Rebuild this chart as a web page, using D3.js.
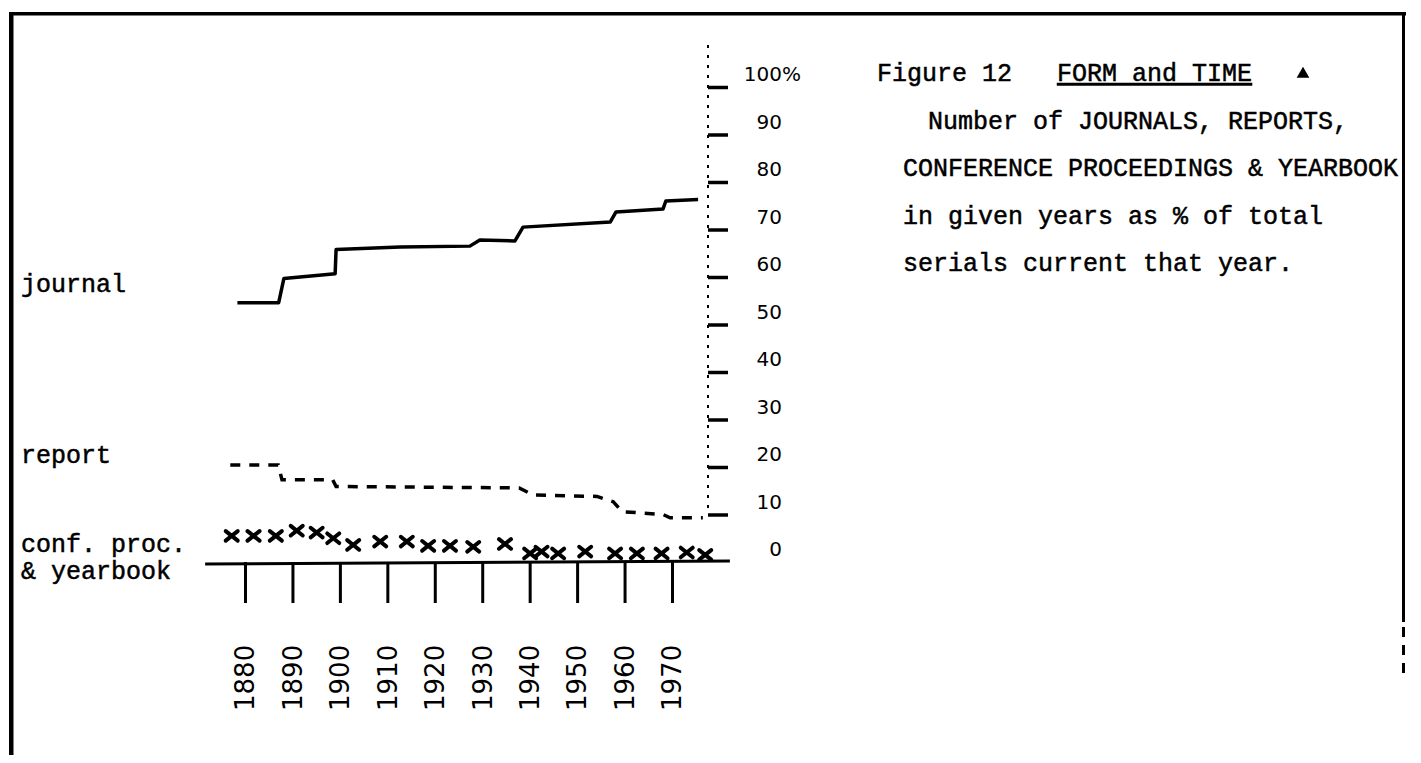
<!DOCTYPE html>
<html>
<head>
<meta charset="utf-8">
<script src="https://cdn.jsdelivr.net/npm/d3@7"></script>
<style>
  html, body { margin: 0; padding: 0; background: #fff; }
  svg { display: block; }
  .mono { font-family: "Liberation Mono", "DejaVu Sans Mono", monospace; font-size: 25px; font-weight: normal; fill: #000; stroke: #000; stroke-width: 0.5px; }
  .sans { font-family: "DejaVu Sans", sans-serif; fill: #000; }
</style>
</head>
<body>
<svg id="chart" width="1421" height="763"></svg>
<script>
// ---- data ----
const xTickYears = [1880, 1890, 1900, 1910, 1920, 1930, 1940, 1950, 1960, 1970];
const yTickValues = [0, 10, 20, 30, 40, 50, 60, 70, 80, 90, 100];

// journal: stepped solid line
const journalYear = [1878.4, 1887.1, 1888.2, 1899.0, 1899.2, 1912.7, 1927.4, 1929.5, 1936.9, 1938.6, 1957.0, 1958.2, 1968.1, 1968.7, 1975.5];
const journalPct  = [54.6,   54.6,   59.7,   60.7,   65.8,   66.3,   66.5,   67.8,   67.6,   70.5,   71.6,   73.7,   74.3,   76.0,   76.3];

// report: dashed line
const reportYear = [1876.9, 1887.0, 1887.8, 1898.5, 1899.2, 1937.8, 1940.7, 1954.2, 1957.6, 1959.5, 1968.1, 1969.6, 1976.5];
const reportPct  = [20.4,   20.4,   17.3,   17.3,   15.9,   15.6,   14.1,   13.8,   12.7,   10.6,   10.0,   9.3,    9.3];

// conference proceedings & yearbook: x marks
const confYear = [1877.2, 1881.8, 1886.5, 1890.9, 1895.1, 1898.6, 1902.8, 1908.5, 1914.1, 1918.6, 1923.2, 1928.1, 1934.8, 1940.1, 1942.5, 1946.0, 1951.7, 1958.0, 1962.6, 1967.8, 1973.1, 1977.0];
const confPct  = [5.5,    5.5,    5.5,    6.6,    6.2,    5.0,    3.6,    4.3,    4.3,    3.4,    3.4,    3.2,    3.8,    1.8,    2.2,    1.8,    2.2,    1.8,    1.8,    1.8,    2.0,    1.5];

const seriesLabels = ["journal", "report", "conf. proc.", "& yearbook"];
const captionLines = [
  "Number of JOURNALS, REPORTS,",
  "CONFERENCE PROCEEDINGS & YEARBOOK",
  "in given years as % of total",
  "serials current that year."
];

// ---- layout ----
const svg = d3.select("#chart");
const x = d3.scaleLinear().domain([1880, 1970]).range([245, 672]);
const y = d3.scaleLinear().domain([0, 100]).range([562, 87]);
const axisX = 708;

// frame
svg.append("rect").attr("x", 9).attr("y", 12).attr("width", 1397).attr("height", 3.5).attr("fill", "#000");
svg.append("rect").attr("x", 9).attr("y", 12).attr("width", 4.5).attr("height", 743).attr("fill", "#000");
svg.append("rect").attr("x", 1402).attr("y", 12).attr("width", 3).attr("height", 610).attr("fill", "#000");
svg.append("line").attr("x1", 1403.5).attr("y1", 627).attr("x2", 1403.5).attr("y2", 678)
  .attr("stroke", "#000").attr("stroke-width", 3).attr("stroke-dasharray", "10 8");

// y axis (right side)
const yAxis = d3.axisRight(y).tickValues(yTickValues).tickSize(20).tickFormat("");
const gy = svg.append("g").attr("transform", `translate(${axisX},0)`).call(yAxis);
gy.select(".domain").remove();
gy.selectAll(".tick line").attr("stroke", "#000").attr("stroke-width", 3.5);
gy.select(".tick:first-of-type").remove();
svg.append("line").attr("x1", axisX).attr("x2", axisX).attr("y1", 45).attr("y2", y(10))
  .attr("stroke", "#000").attr("stroke-width", 2).attr("stroke-dasharray", "3 7");

// y tick labels
svg.append("g").selectAll("text").data(yTickValues).join("text")
  .attr("class", "sans").attr("font-size", 20)
  .attr("x", 782).attr("y", d => y(d) - 6).attr("text-anchor", "end")
  .text(d => d);
svg.append("text").attr("class", "sans").attr("font-size", 20)
  .attr("x", 782).attr("y", y(100) - 6).text("%");

// x axis
svg.append("line").attr("x1", x(1871.6)).attr("x2", x(1982.2)).attr("y1", y(0) + 2).attr("y2", y(0) - 1)
  .attr("stroke", "#000").attr("stroke-width", 3);
const xAxis = d3.axisBottom(x).tickValues(xTickYears).tickSize(41).tickFormat("");
const gx = svg.append("g").attr("transform", `translate(0,${y(0)})`).call(xAxis);
gx.select(".domain").remove();
gx.selectAll(".tick line").attr("stroke", "#000").attr("stroke-width", 3);
svg.append("g").selectAll("text").data(xTickYears).join("text")
  .attr("class", "sans").attr("font-size", 26)
  .attr("transform", d => `translate(${x(d)},711) rotate(-90)`)
  .attr("dy", "0.36em")
  .text(d => d);

// journal line
const journal = journalYear.map((yr, i) => [yr, journalPct[i]]);
const line = d3.line().x(d => x(d[0])).y(d => y(d[1]));
svg.append("path").attr("d", line(journal)).attr("fill", "none").attr("stroke", "#000")
  .attr("stroke-width", 3.5).attr("stroke-linejoin", "round");

// report line
const report = reportYear.map((yr, i) => [yr, reportPct[i]]);
svg.append("path").attr("d", line(report)).attr("fill", "none").attr("stroke", "#000")
  .attr("stroke-width", 3.5).attr("stroke-dasharray", "10 9");

// conference marks
const conf = confYear.map((yr, i) => [yr, confPct[i]]);
const r = 6;
svg.append("g").selectAll("path").data(conf).join("path")
  .attr("d", d => {
    const cx = x(d[0]), cy = y(d[1]);
    return `M${cx - r},${cy - r * 0.8}L${cx + r},${cy + r * 0.8}M${cx - r},${cy + r * 0.8}L${cx + r},${cy - r * 0.8}`;
  })
  .attr("stroke", "#000").attr("stroke-width", 4).attr("stroke-linecap", "round");

// series labels (left)
const labelY = [292, 463, 552, 579];
svg.append("g").selectAll("text").data(seriesLabels).join("text")
  .attr("class", "mono").attr("x", 21).attr("y", (d, i) => labelY[i]).text(d => d);

// caption block
const capY = [90, 80, 70, 60].map(v => y(v) - 6);
svg.append("text").attr("class", "mono").attr("x", 877).attr("y", y(100) - 6).text("Figure 12");
svg.append("text").attr("class", "mono").attr("x", 1057).attr("y", y(100) - 6)
  .attr("text-decoration", "underline").text("FORM and TIME");
svg.append("path").attr("d", d3.symbol(d3.symbolTriangle, 70)())
  .attr("transform", `translate(1303,${y(100) - 13})`).attr("fill", "#000");
svg.append("g").selectAll("text").data(captionLines).join("text")
  .attr("class", "mono")
  .attr("x", (d, i) => i === 0 ? 928 : 903)
  .attr("y", (d, i) => capY[i])
  .text(d => d);
</script>
</body>
</html>
